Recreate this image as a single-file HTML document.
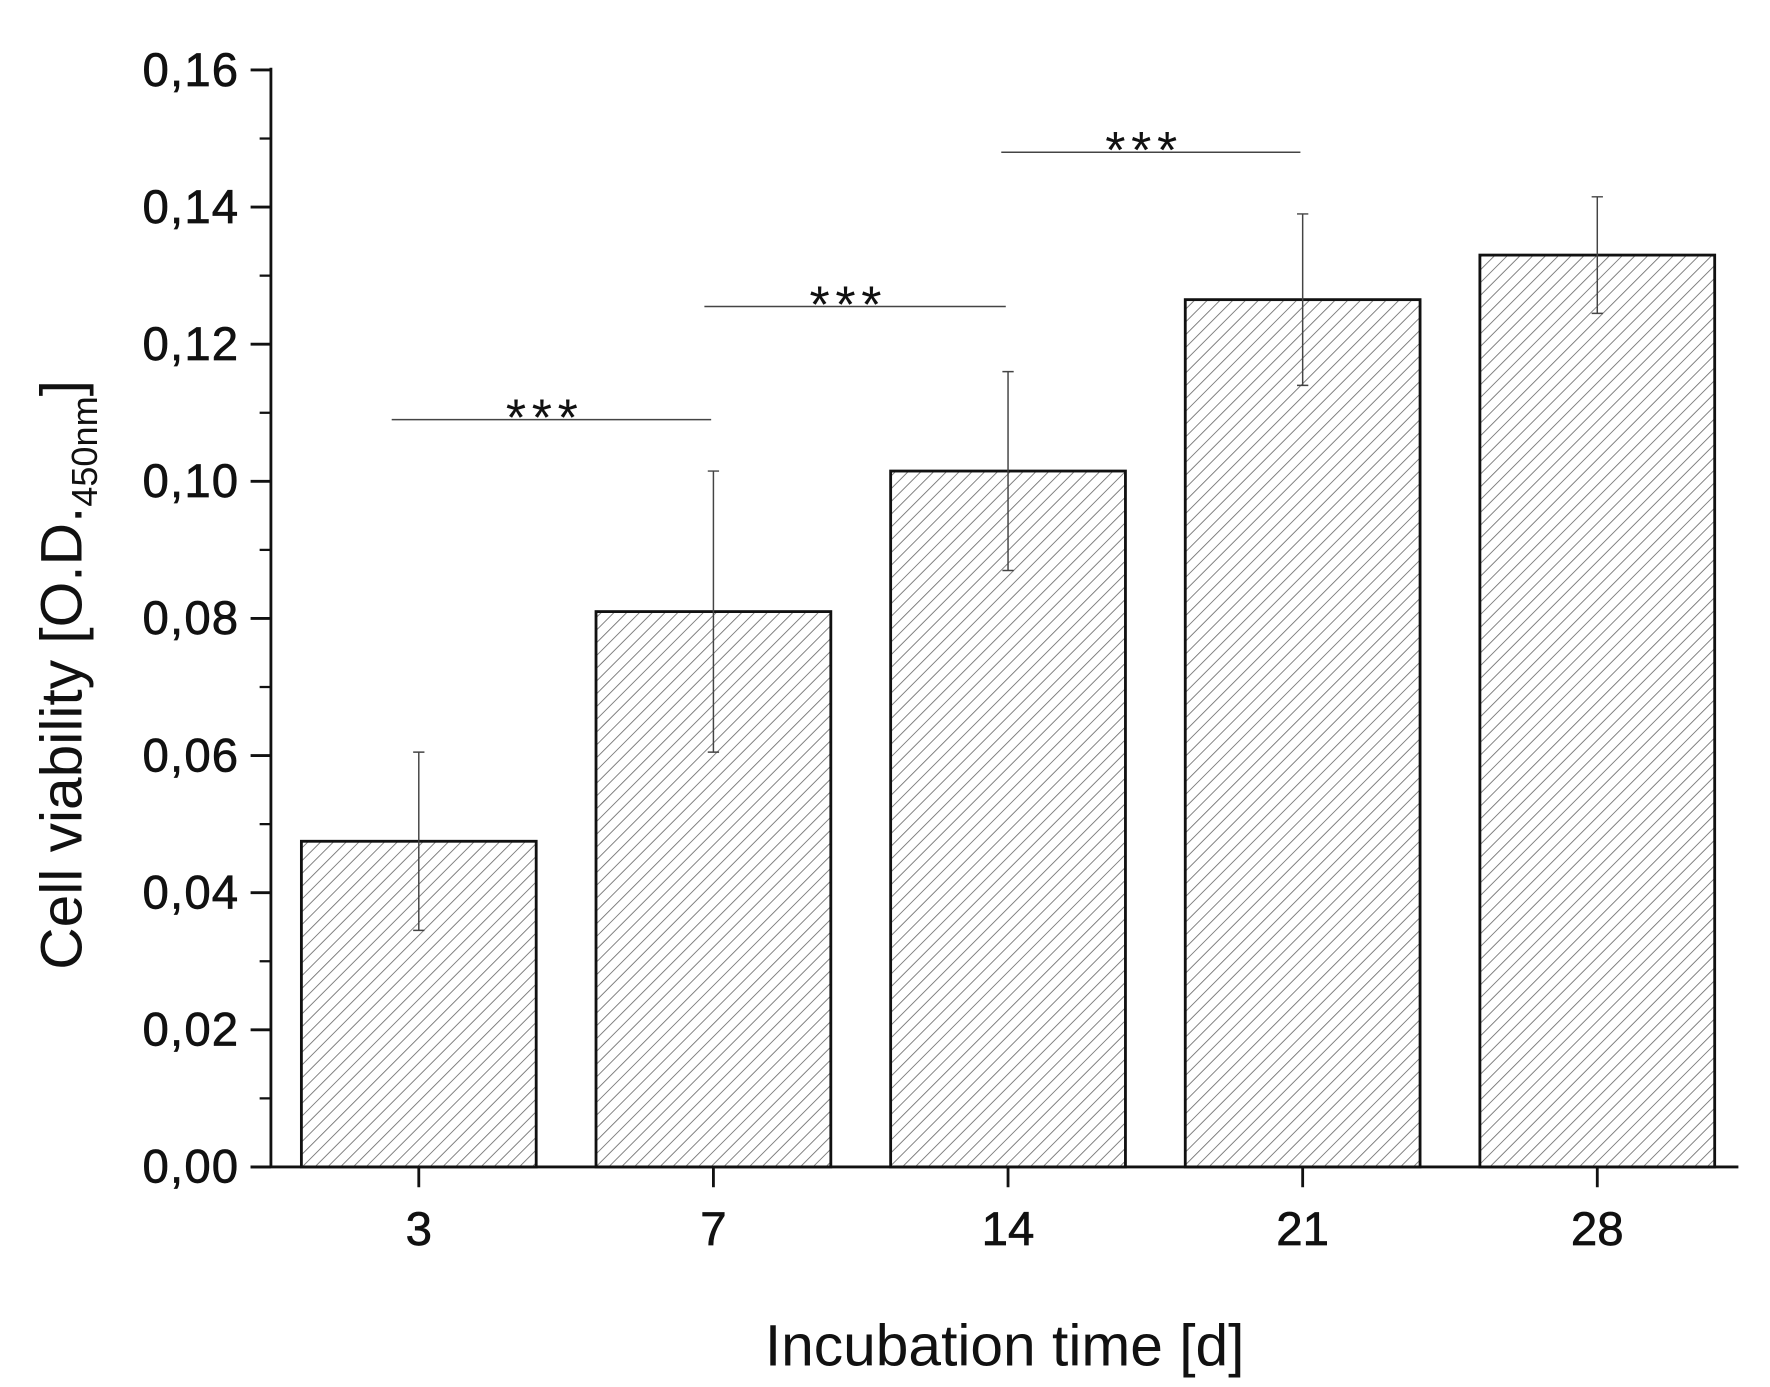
<!DOCTYPE html>
<html><head><meta charset="utf-8"><style>
html,body{margin:0;padding:0;background:#fff;}
svg{display:block;}
text{font-family:"Liberation Sans",sans-serif;fill:#111;}
</style></head><body>
<svg id="chart" width="1770" height="1387" viewBox="0 0 1568 1229" preserveAspectRatio="none" xmlns="http://www.w3.org/2000/svg">
<defs>
<pattern id="hatch" patternUnits="userSpaceOnUse" width="8" height="8" patternTransform="rotate(45)">
<rect width="8" height="8" fill="#fff"/>
<line x1="0" y1="0" x2="0" y2="8" stroke="#777" stroke-width="1.6"/>
</pattern>
</defs>
<g id="plot"></g>
</svg>
<script>
const categories = ["3","7","14","21","28"];
const values = [0.0475, 0.081, 0.1015, 0.1265, 0.133];
const errors = [0.013, 0.0205, 0.0145, 0.0125, 0.0085];
const yTicks = [0, 0.02, 0.04, 0.06, 0.08, 0.10, 0.12, 0.14, 0.16];
const yTickLabels = ["0,00","0,02","0,04","0,06","0,08","0,10","0,12","0,14","0,16"];
const sigFrom = [0, 1, 2];
const sigTo = [1, 2, 3];
const sigLevel = [0.109, 0.1255, 0.148];
const sigLabel = ["***","***","***"];

const NS = "http://www.w3.org/2000/svg";
const g = document.getElementById("plot");
const axX0 = 240, y0 = 1034, y1 = 62, yMax = 0.16;
const yScale = v => y0 - (v / yMax) * (y0 - y1);
const xScale = i => 371 + i * 261;
const barW = 208;
const sigStartShift = [-24, -8, -6];
function el(tag, attrs, text) {
  const e = document.createElementNS(NS, tag);
  for (const k in attrs) e.setAttribute(k, attrs[k]);
  if (text !== undefined) e.textContent = text;
  g.appendChild(e);
  return e;
}
values.forEach((v, i) => {
  const b = el("rect", {x: xScale(i) - barW/2, y: yScale(v), width: barW, height: y0 - yScale(v), fill: "url(#hatch)", stroke: "#111", "stroke-width": 2.5});
  
  
});
values.forEach((v, i) => {
  const cx = xScale(i), top = yScale(v + errors[i]), bot = yScale(v - errors[i]);
  const e = el("path", {d: `M${cx},${top}V${bot}M${cx-5},${top}H${cx+5}M${cx-5},${bot}H${cx+5}`, stroke: "#444", "stroke-width": 1.3, fill: "none"});
  
  
});
sigLevel.forEach((lv, k) => {
  const xa = xScale(sigFrom[k]) + sigStartShift[k], xb = xScale(sigTo[k]) - 2;
  const y = yScale(lv);
  const l = el("line", {x1: xa, x2: xb, y1: y, y2: y, stroke: "#444", "stroke-width": 1.3});
  
  
  const t = el("text", {x: (xa + xb) / 2 - 6, y: y + 14, "text-anchor": "middle", "font-size": 46, "letter-spacing": 5}, sigLabel[k]);
  
  
});
const ya = el("line", {x1: axX0, x2: axX0, y1: y1 - 2, y2: y0 + 1, stroke: "#111", "stroke-width": 2.5});


const xa = el("line", {x1: 222, x2: 1540, y1: y0, y2: y0, stroke: "#111", "stroke-width": 2.5});


yTicks.forEach((v, i) => {
  const y = yScale(v);
  el("line", {x1: axX0 - 18, x2: axX0, y1: y, y2: y, stroke: "#111", "stroke-width": 2.5});
  if (i < yTicks.length - 1) {
    const ym = yScale(v + 0.01);
    el("line", {x1: axX0 - 10, x2: axX0, y1: ym, y2: ym, stroke: "#111", "stroke-width": 2});
  }
  const t = el("text", {x: 212, y: y + 14, "text-anchor": "end", "font-size": 42, "letter-spacing": 1, stroke: "#111", "stroke-width": 0.6}, yTickLabels[i]);
  
  
});
categories.forEach((c, i) => {
  const x = xScale(i);
  el("line", {x1: x, x2: x, y1: y0, y2: y0 + 18, stroke: "#111", "stroke-width": 2.5});
  const t = el("text", {x: x, y: 1103, "text-anchor": "middle", "font-size": 42, stroke: "#111", "stroke-width": 0.6}, c);
  
  
});
const xt = el("text", {x: 890, y: 1210, "text-anchor": "middle", "font-size": 52}, "Incubation time [d]");


const yt = document.createElementNS(NS, "text");
yt.setAttribute("transform", "translate(72,598) rotate(-90)");
yt.setAttribute("text-anchor", "middle");
yt.setAttribute("font-size", 52);
yt.innerHTML = 'Cell viability [O.D.<tspan font-size="32" dy="14">450nm</tspan><tspan dy="-14">]</tspan>';


g.appendChild(yt);
</script>
</body></html>
